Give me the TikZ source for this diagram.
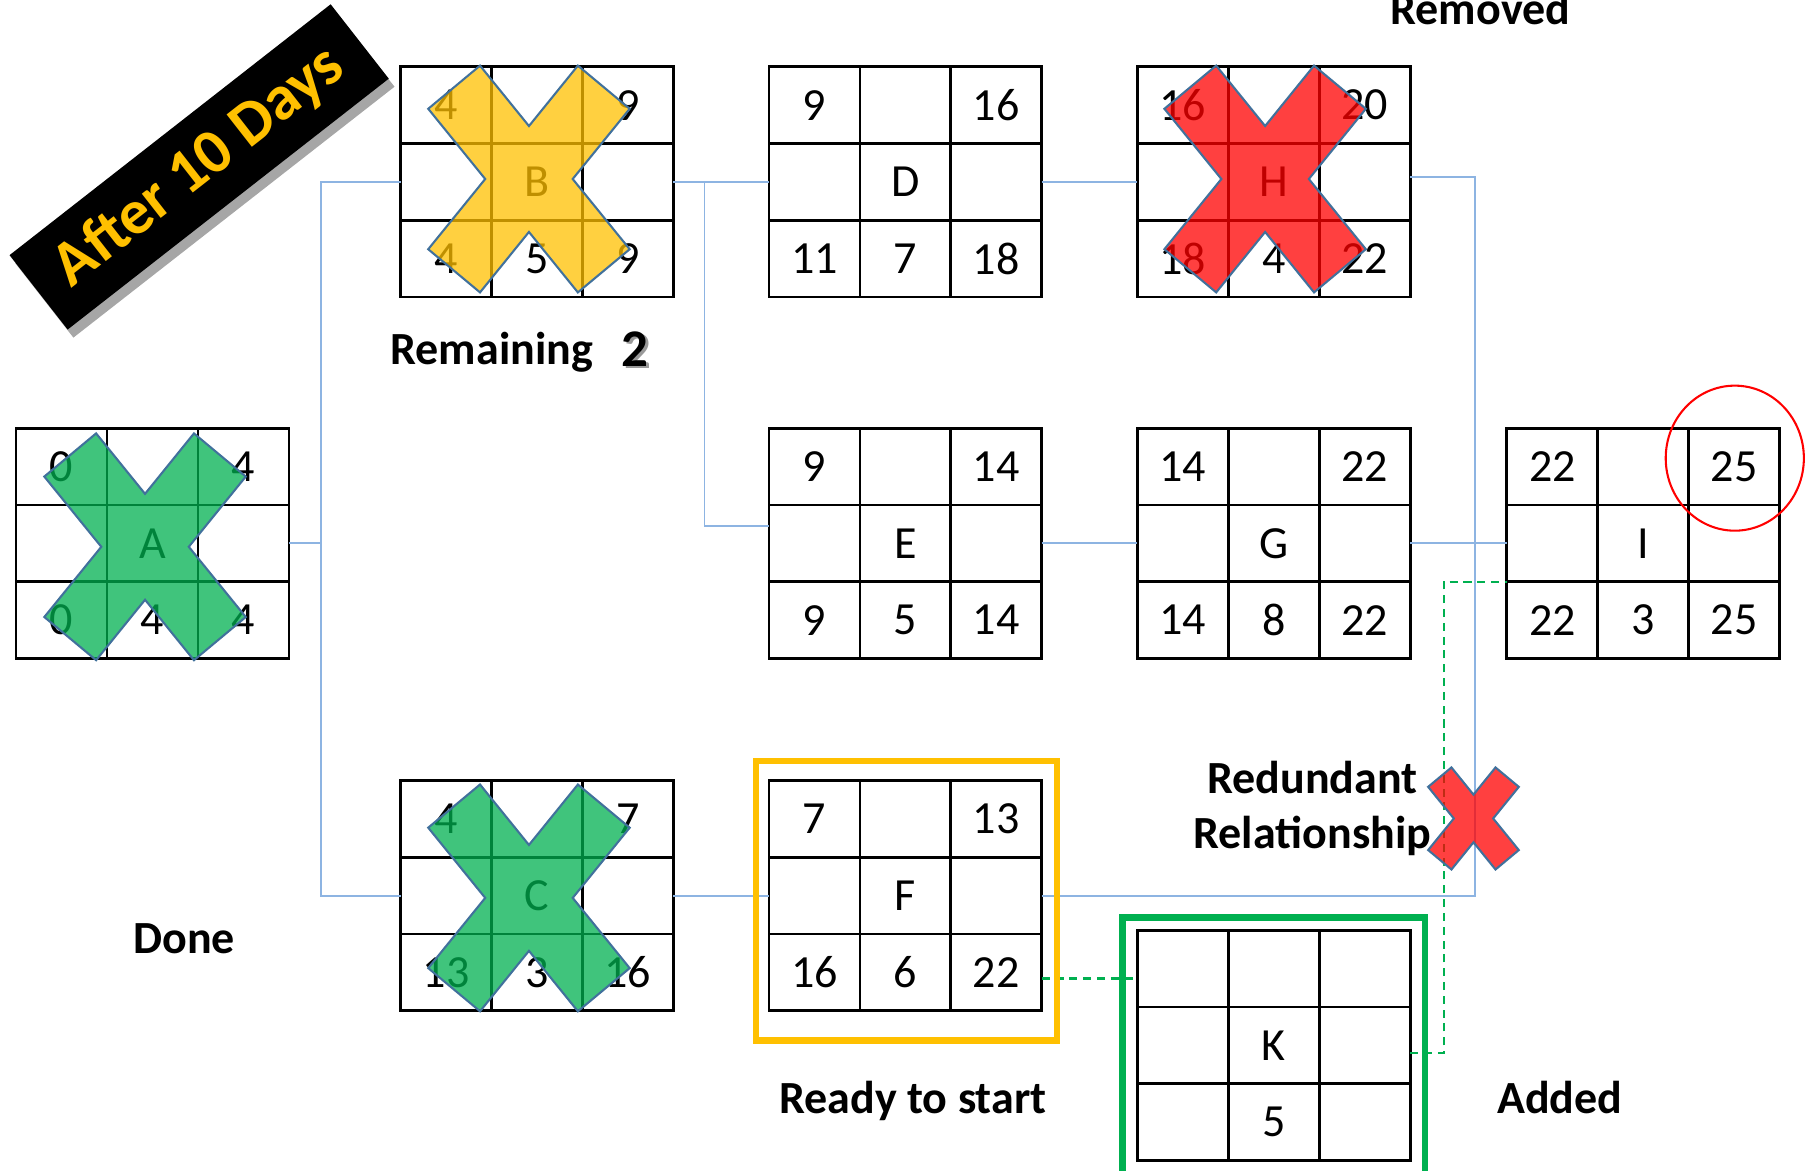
\documentclass[tikz,border=0pt]{standalone}
\usepackage{fontspec}
\setmainfont{Carlito}
\usepackage{tikz}
\usetikzlibrary{calc,positioning,shadows}
\definecolor{linkblue}{RGB}{141,180,226}
\definecolor{readygold}{RGB}{255,192,0}
\definecolor{addgreen}{RGB}{0,176,80}
\definecolor{xgreen}{RGB}{0,176,80}
\definecolor{xred}{RGB}{255,0,0}
\definecolor{xedge}{RGB}{65,113,156}
\tikzset{
  actbox/.style={draw,line width=2.4pt,minimum width=237pt,minimum height=200pt,
    inner sep=0pt,outer sep=0pt},
  cell/.style={font=\fontsize{40}{48}\selectfont,inner sep=0pt},
  link/.style={draw=linkblue,line width=1.6pt},
  addlink/.style={draw=addgreen,line width=1.8pt,dash pattern=on 7pt off 5pt},
  tag/.style={font=\fontsize{40}{48}\selectfont\bfseries,inner sep=0pt,align=center},
  frame/.style={draw,line width=5.5pt,inner sep=0pt,outer sep=0pt},
  ring/.style={draw=xred,line width=1.8pt},
  banner/.style={fill=black,text=readygold,minimum width=354pt,minimum height=82pt,
    inner sep=0pt,font=\fontsize{55}{60}\selectfont\bfseries,
    drop shadow={shadow xshift=5pt,shadow yshift=-7pt,fill=black,opacity=0.35}},
  pics/xmark/.style={code={
    \filldraw[fill=#1,fill opacity=0.75,draw=xedge,line width=1.8pt]
      (0,-46) -- (42.5,-98.5) -- (87.5,-61) -- (38,0) -- (87.5,61) -- (42.5,98.5)
      -- (0,46) -- (-42.5,98.5) -- (-87.5,61) -- (-38,0) -- (-87.5,-61)
      -- (-42.5,-98.5) -- cycle;
  }}
}
% grid and numbers of one activity box
\newcommand{\actgrid}[6]{%
  \draw[line width=2.4pt]
    ($(#1.north west)!1/3!(#1.north east)$) -- ($(#1.south west)!1/3!(#1.south east)$)
    ($(#1.north west)!2/3!(#1.north east)$) -- ($(#1.south west)!2/3!(#1.south east)$)
    ($(#1.north west)!1/3!(#1.south west)$) -- ($(#1.north east)!1/3!(#1.south east)$)
    ($(#1.north west)!2/3!(#1.south west)$) -- ($(#1.north east)!2/3!(#1.south east)$);
  \node[cell] (#1-tl) at ($(#1)+(-79,-66.7)$) {#2};
  \node[cell] (#1-tr) at ($(#1)+(79,-66.7)$) {#3};
  \node[cell] (#1-m) at (#1) {#1};
  \node[cell] (#1-bl) at ($(#1)+(-79,66.7)$) {#4};
  \node[cell] (#1-bm) at ($(#1)+(0,66.7)$) {#5};
  \node[cell] (#1-br) at ($(#1)+(79,66.7)$) {#6};
}

\begin{document}
\begin{tikzpicture}[x=1pt,y=-1pt]
  \useasboundingbox (0,0) rectangle (1568,1017);
  \clip (0,0) rectangle (1568,1017);

  \node[actbox] (A) at (132.5,472) {};
  \node[actbox] (B) at (466.5,158) {};
  \node[actbox,right=83pt of B] (D) {};
  \node[actbox,right=83pt of D] (H) {};
  \node[actbox,below=114pt of D] (E) {};
  \node[actbox,right=83pt of E] (G) {};
  \node[actbox,right=84pt of G] (I) {};
  \node[actbox,below=106pt of E] (F) {};
  \node[actbox,left=83pt of F] (C) {};
  \node[actbox,below=236pt of G] (K) {};

  \actgrid{A}{0}{4}{0}{4}{4}
  \actgrid{B}{4}{9}{4}{5}{9}
  \actgrid{D}{9}{16}{11}{7}{18}
  \actgrid{H}{16}{20}{18}{4}{22}
  \actgrid{E}{9}{14}{9}{5}{14}
  \actgrid{G}{14}{22}{14}{8}{22}
  \actgrid{I}{22}{25}{22}{3}{25}
  \actgrid{C}{4}{7}{13}{3}{16}
  \actgrid{F}{7}{13}{16}{6}{22}
  \actgrid{K}{}{}{}{5}{}

  % relationships
  \draw[link] (A.east) -- ++(28,0) coordinate (asplit) |- (B.west);
  \draw[link] (asplit) |- (C.west);
  \draw[link] (B.east) -- (D.west);
  \draw[link] (B.east) -- ++(27,0) |- ($(E.west)+(0,-15)$);
  \draw[link] (D.east) -- (H.west);
  \draw[link] (E.east) -- (G.west);
  \draw[link] (C.east) -- (F.west);
  \draw[link] ($(H.east)+(0,-4)$) -- ++(56,0) coordinate (isplit) |- (I.west);
  \draw[link] (G.east) -- (I.west);
  \draw[link] (F.east) -| (isplit);
  \draw[addlink] ($(F.south east)+(0,-28)$) -- ($(K.north west)+(0,42)$);
  \draw[addlink] ($(K.east)+(0,7)$) -- ++(29,0) |- ($(I.west)+(0,33.3)$);

  \pic at ($(A)+(-6.5,3)$) {xmark=xgreen};
  \pic at ($(C)+(-7,2)$) {xmark=xgreen};
  \pic at ($(B)+(-7,-2.5)$) {xmark=readygold};
  \pic at ($(H)+(-7.5,-2.5)$) {xmark=xred};
  \pic[scale=0.45] at (1280,711) {xmark=xred};

  \draw[ring] ($(I)+(79.5,-74)$) ellipse [x radius=60, y radius=63];

  \node[frame,draw=readygold,minimum width=261pt,minimum height=243pt] (ready)
    at ($(F)+(1,4.5)$) {};
  \node[frame,draw=addgreen,minimum width=263pt,minimum height=260pt] (added)
    at ($(K)+(0,19)$) {};

  \node[banner,rotate=38] (days) at (173,145) {After 10 Days};

  \node[tag,anchor=base] (removed) at (1286,21) {Removed};
  \node[tag,anchor=base west] (remaining) at (339,317) {Remaining};
  \node[tag,anchor=base west,text=black!40,font=\fontsize{46}{50}\selectfont\bfseries]
    (twoshade) at (542,320) {2};
  \node[tag,anchor=base west,font=\fontsize{46}{50}\selectfont\bfseries]
    (two) at (540,318) {2};
  \node[tag,anchor=base] (done) at (160,828) {Done};
  \node[tag,anchor=base] (readytag) at (793,967) {Ready to start};
  \node[tag,anchor=base] (addtag) at (1355,967) {Added};
  \node[tag,anchor=base] (redtag) at (1140,737) {Redundant\\Relationship};
\end{tikzpicture}
\end{document}
